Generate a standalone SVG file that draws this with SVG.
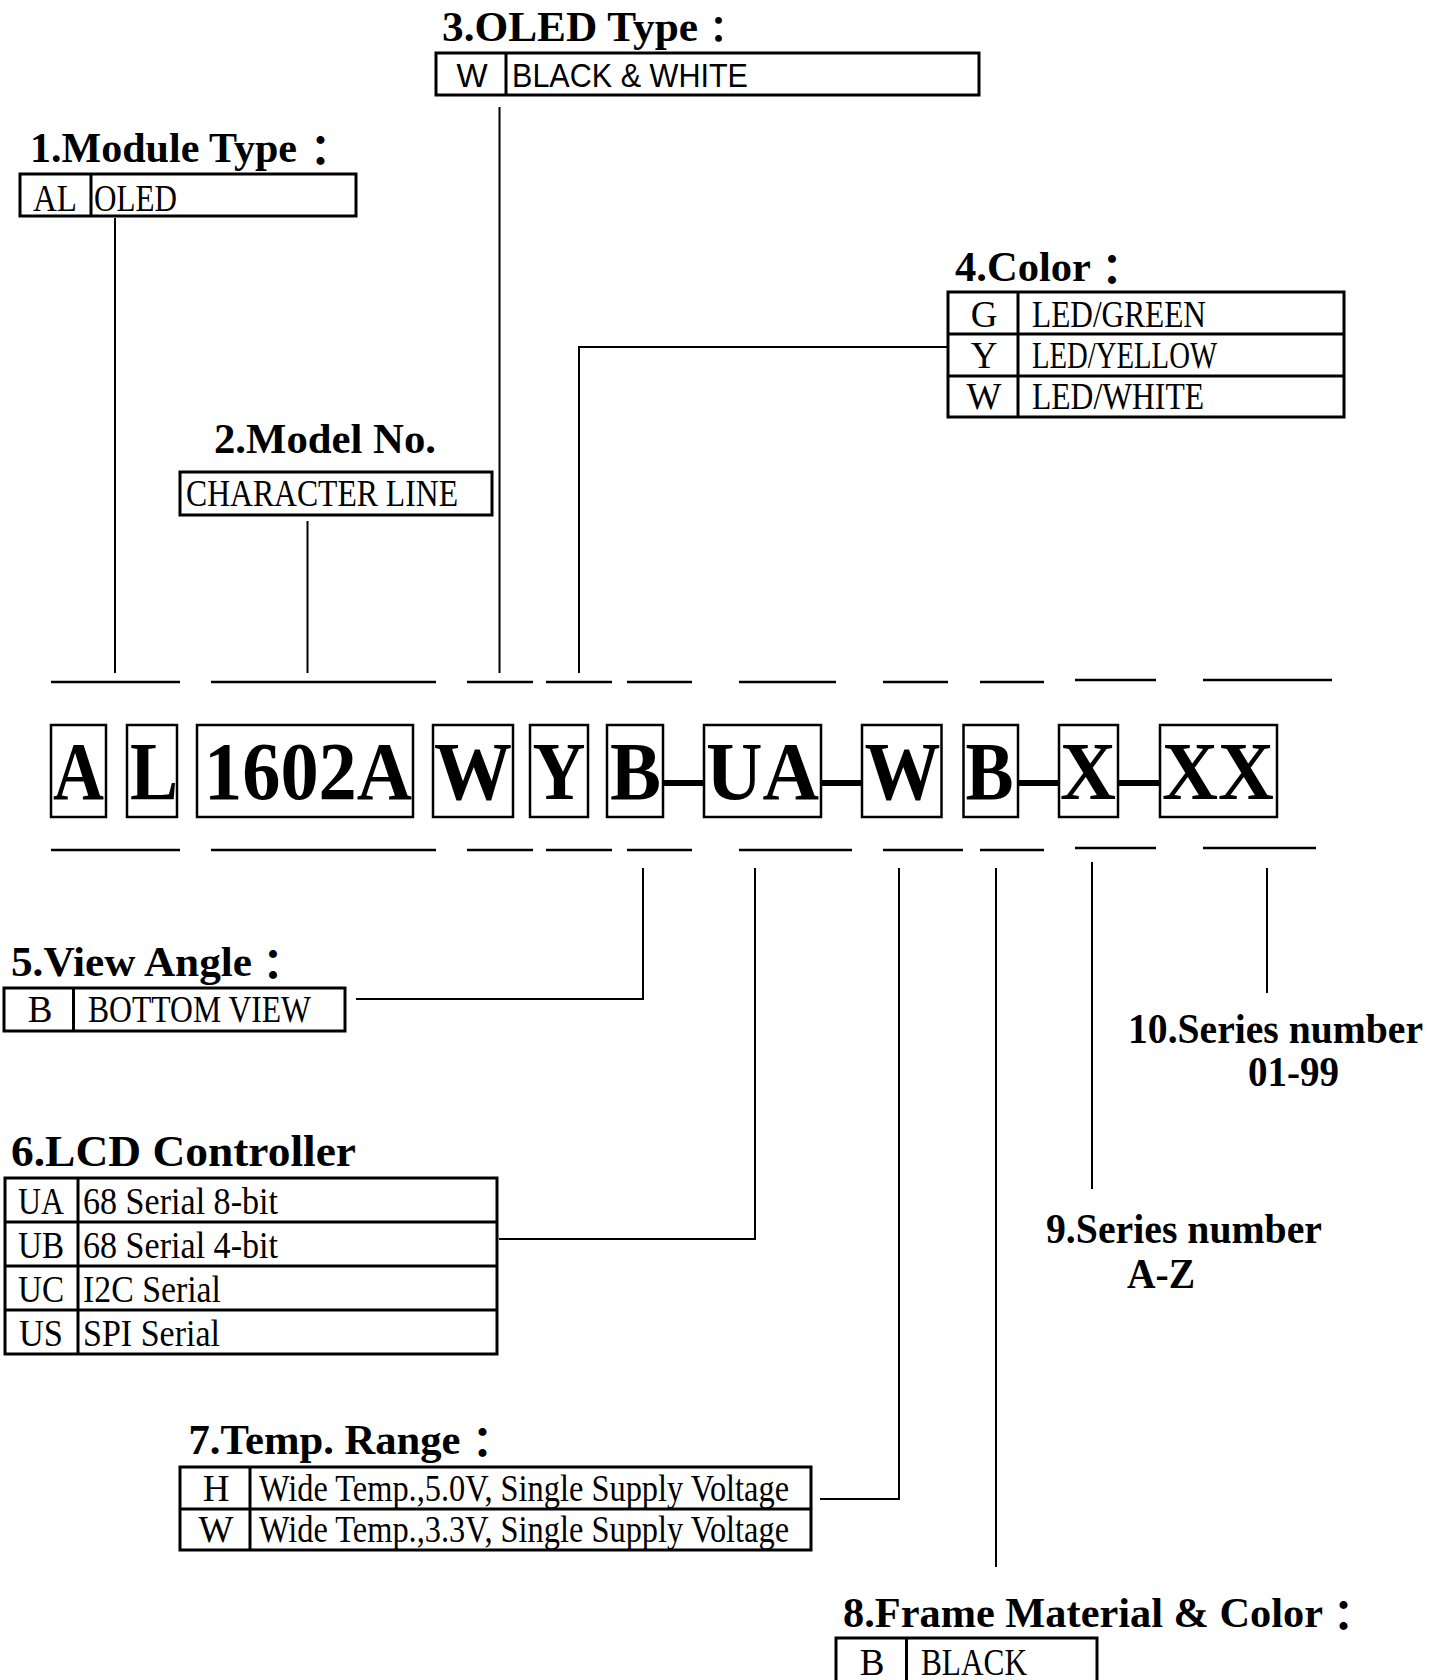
<svg xmlns="http://www.w3.org/2000/svg" width="1441" height="1680" viewBox="0 0 1441 1680">
<style>
.title{font-family:"Liberation Serif","Noto Sans CJK TC",serif;font-weight:bold;font-size:42px;fill:#000}
.colon{font-family:"Noto Sans CJK TC","Liberation Serif",sans-serif;font-weight:bold}
.cell{font-family:"Liberation Serif",serif;font-size:37px;fill:#000}
.sans{font-family:"Liberation Sans",sans-serif;font-size:33px;fill:#000}
.big{font-family:"Liberation Serif",serif;font-weight:bold;font-size:82px;fill:#000}
.tbl{fill:none;stroke:#000;stroke-width:3}
.lbox{fill:none;stroke:#000;stroke-width:2.5}
.conn{fill:none;stroke:#000;stroke-width:2}
.dash{fill:none;stroke:#000;stroke-width:2.5}
.hy{fill:none;stroke:#000;stroke-width:6}
</style>
<rect width="1441" height="1680" fill="#fff"/>

<g id="connectors">
  <line class="conn" x1="115" y1="218" x2="115" y2="673"/>
  <line class="conn" x1="307.5" y1="521" x2="307.5" y2="673"/>
  <line class="conn" x1="499.5" y1="107" x2="499.5" y2="673"/>
  <polyline class="conn" points="579,673 579,347 948,347"/>
  <polyline class="conn" points="643,868 643,999 356,999"/>
  <polyline class="conn" points="755,868 755,1239 499,1239"/>
  <polyline class="conn" points="899,868 899,1499 820,1499"/>
  <line class="conn" x1="996" y1="868" x2="996" y2="1567"/>
  <line class="conn" x1="1092" y1="862" x2="1092" y2="1189"/>
  <line class="conn" x1="1267" y1="868" x2="1267" y2="993"/>
</g>

<g id="code-row">
  <g id="dashes-top">
    <line class="dash" x1="51" y1="682" x2="180" y2="682"/>
    <line class="dash" x1="211" y1="682" x2="436" y2="682"/>
    <line class="dash" x1="467" y1="682" x2="533" y2="682"/>
    <line class="dash" x1="546" y1="682" x2="612" y2="682"/>
    <line class="dash" x1="627" y1="682" x2="692" y2="682"/>
    <line class="dash" x1="739" y1="682" x2="836" y2="682"/>
    <line class="dash" x1="883" y1="682" x2="948" y2="682"/>
    <line class="dash" x1="980" y1="682" x2="1044" y2="682"/>
    <line class="dash" x1="1075" y1="680" x2="1156" y2="680"/>
    <line class="dash" x1="1203" y1="680" x2="1332" y2="680"/>
  </g>
  <g id="dashes-bottom">
    <line class="dash" x1="51" y1="850" x2="180" y2="850"/>
    <line class="dash" x1="211" y1="850" x2="436" y2="850"/>
    <line class="dash" x1="467" y1="850" x2="533" y2="850"/>
    <line class="dash" x1="546" y1="850" x2="612" y2="850"/>
    <line class="dash" x1="627" y1="850" x2="692" y2="850"/>
    <line class="dash" x1="739" y1="850" x2="852" y2="850"/>
    <line class="dash" x1="883" y1="850" x2="963" y2="850"/>
    <line class="dash" x1="980" y1="850" x2="1044" y2="850"/>
    <line class="dash" x1="1075" y1="848" x2="1156" y2="848"/>
    <line class="dash" x1="1203" y1="848" x2="1316" y2="848"/>
  </g>
  <g id="hyphens">
    <line class="hy" x1="663" y1="783" x2="704" y2="783"/>
    <line class="hy" x1="821" y1="783" x2="862" y2="783"/>
    <line class="hy" x1="1018" y1="783" x2="1059" y2="783"/>
    <line class="hy" x1="1118" y1="783" x2="1160" y2="783"/>
  </g>
  <g id="seg-A"><rect class="lbox" x="51" y="725" width="55" height="92"/><text class="big" x="78.5" y="799" text-anchor="middle" textLength="51" lengthAdjust="spacingAndGlyphs">A</text></g>
  <g id="seg-L"><rect class="lbox" x="127" y="725" width="50" height="92"/><text class="big" x="154" y="799" text-anchor="middle" textLength="48" lengthAdjust="spacingAndGlyphs">L</text></g>
  <g id="seg-1602A"><rect class="lbox" x="197" y="725" width="216" height="92"/><text class="big" x="308" y="799" text-anchor="middle" textLength="208" lengthAdjust="spacingAndGlyphs">1602A</text></g>
  <g id="seg-W"><rect class="lbox" x="433" y="725" width="80" height="92"/><text class="big" x="473" y="799" text-anchor="middle" textLength="78" lengthAdjust="spacingAndGlyphs">W</text></g>
  <g id="seg-Y"><rect class="lbox" x="530" y="725" width="58" height="92"/><text class="big" x="559" y="799" text-anchor="middle" textLength="53" lengthAdjust="spacingAndGlyphs">Y</text></g>
  <g id="seg-B"><rect class="lbox" x="607" y="725" width="56" height="92"/><text class="big" x="635.5" y="799" text-anchor="middle" textLength="51" lengthAdjust="spacingAndGlyphs">B</text></g>
  <g id="seg-UA"><rect class="lbox" x="704" y="725" width="117" height="92"/><text class="big" x="762.5" y="799" text-anchor="middle" textLength="113" lengthAdjust="spacingAndGlyphs">UA</text></g>
  <g id="seg-W2"><rect class="lbox" x="862" y="725" width="79.5" height="92"/><text class="big" x="902.5" y="799" text-anchor="middle" textLength="76" lengthAdjust="spacingAndGlyphs">W</text></g>
  <g id="seg-B2"><rect class="lbox" x="963.5" y="725" width="54.5" height="92"/><text class="big" x="989.5" y="799" text-anchor="middle" textLength="48" lengthAdjust="spacingAndGlyphs">B</text></g>
  <g id="seg-X"><rect class="lbox" x="1059" y="725" width="59" height="92"/><text class="big" x="1088" y="799" text-anchor="middle" textLength="56" lengthAdjust="spacingAndGlyphs">X</text></g>
  <g id="seg-XX"><rect class="lbox" x="1160" y="725" width="117" height="92"/><text class="big" x="1218" y="799" text-anchor="middle" textLength="112" lengthAdjust="spacingAndGlyphs">XX</text></g>
</g>

<g id="module-type">
  <text class="title" x="30" y="162"><tspan textLength="267" lengthAdjust="spacingAndGlyphs">1.Module Type</tspan><tspan class="colon" x="299.5" dy="4">：</tspan></text>
  <rect class="tbl" x="20" y="174" width="336" height="42"/>
  <line class="tbl" x1="91" y1="174" x2="91" y2="216"/>
  <text class="cell" x="55" y="211" text-anchor="middle" textLength="44" lengthAdjust="spacingAndGlyphs">AL</text>
  <text class="cell" x="94" y="211" textLength="83" lengthAdjust="spacingAndGlyphs">OLED</text>
</g>

<g id="model-no">
  <text class="title" x="214" y="453" textLength="222" lengthAdjust="spacingAndGlyphs">2.Model No.</text>
  <rect class="tbl" x="180" y="472" width="312" height="43"/>
  <text class="cell" x="186" y="506" textLength="272" lengthAdjust="spacingAndGlyphs">CHARACTER LINE</text>
</g>

<g id="oled-type">
  <text class="title" x="442" y="41"><tspan textLength="256" lengthAdjust="spacingAndGlyphs">3.OLED Type</tspan><tspan class="colon" x="700.5" dy="2" style="font-size:36px">：</tspan></text>
  <rect class="tbl" x="436" y="53" width="543" height="42"/>
  <line class="tbl" x1="506" y1="53" x2="506" y2="95"/>
  <text class="sans" x="472" y="87" text-anchor="middle">W</text>
  <text class="sans" x="512" y="87" textLength="236" lengthAdjust="spacingAndGlyphs">BLACK &amp; WHITE</text>
</g>

<g id="color">
  <text class="title" x="955" y="281"><tspan textLength="136" lengthAdjust="spacingAndGlyphs">4.Color</tspan><tspan class="colon" x="1091" dy="4">：</tspan></text>
  <rect class="tbl" x="948" y="292" width="396" height="125"/>
  <line class="tbl" x1="948" y1="334" x2="1344" y2="334"/>
  <line class="tbl" x1="948" y1="376" x2="1344" y2="376"/>
  <line class="tbl" x1="1018" y1="292" x2="1018" y2="417"/>
  <text class="cell" x="984" y="327" text-anchor="middle">G</text>
  <text class="cell" x="1032" y="327" textLength="174" lengthAdjust="spacingAndGlyphs">LED/GREEN</text>
  <text class="cell" x="984" y="368" text-anchor="middle">Y</text>
  <text class="cell" x="1032" y="368" textLength="185" lengthAdjust="spacingAndGlyphs">LED/YELLOW</text>
  <text class="cell" x="984" y="409" text-anchor="middle">W</text>
  <text class="cell" x="1032" y="409" textLength="172" lengthAdjust="spacingAndGlyphs">LED/WHITE</text>
</g>

<g id="view-angle">
  <text class="title" x="11" y="976"><tspan textLength="241" lengthAdjust="spacingAndGlyphs">5.View Angle</tspan><tspan class="colon" x="252" dy="4">：</tspan></text>
  <rect class="tbl" x="4" y="988" width="341" height="43"/>
  <line class="tbl" x1="73.5" y1="988" x2="73.5" y2="1031"/>
  <text class="cell" x="40" y="1022" text-anchor="middle">B</text>
  <text class="cell" x="88" y="1022" textLength="223" lengthAdjust="spacingAndGlyphs">BOTTOM VIEW</text>
</g>

<g id="lcd-controller">
  <text class="title" x="11" y="1166" style="font-size:45px" textLength="345" lengthAdjust="spacingAndGlyphs">6.LCD Controller</text>
  <rect class="tbl" x="5" y="1178" width="492" height="176"/>
  <line class="tbl" x1="5" y1="1222" x2="497" y2="1222"/>
  <line class="tbl" x1="5" y1="1266" x2="497" y2="1266"/>
  <line class="tbl" x1="5" y1="1310" x2="497" y2="1310"/>
  <line class="tbl" x1="78" y1="1178" x2="78" y2="1354"/>
  <text class="cell" x="41" y="1214" text-anchor="middle" textLength="46" lengthAdjust="spacingAndGlyphs">UA</text>
  <text class="cell" x="83" y="1214" textLength="195" lengthAdjust="spacingAndGlyphs">68 Serial 8-bit</text>
  <text class="cell" x="41" y="1258" text-anchor="middle" textLength="46" lengthAdjust="spacingAndGlyphs">UB</text>
  <text class="cell" x="83" y="1258" textLength="195" lengthAdjust="spacingAndGlyphs">68 Serial 4-bit</text>
  <text class="cell" x="41" y="1302" text-anchor="middle" textLength="46" lengthAdjust="spacingAndGlyphs">UC</text>
  <text class="cell" x="83" y="1302" textLength="138" lengthAdjust="spacingAndGlyphs">I2C Serial</text>
  <text class="cell" x="41" y="1346" text-anchor="middle" textLength="44" lengthAdjust="spacingAndGlyphs">US</text>
  <text class="cell" x="83" y="1346" textLength="137" lengthAdjust="spacingAndGlyphs">SPI Serial</text>
</g>

<g id="temp-range">
  <text class="title" x="188.5" y="1454"><tspan textLength="272" lengthAdjust="spacingAndGlyphs">7.Temp. Range</tspan><tspan class="colon" x="461.5" dy="4">：</tspan></text>
  <rect class="tbl" x="180" y="1467" width="631" height="83"/>
  <line class="tbl" x1="180" y1="1509" x2="811" y2="1509"/>
  <line class="tbl" x1="250" y1="1467" x2="250" y2="1550"/>
  <text class="cell" x="216" y="1501" text-anchor="middle">H</text>
  <text class="cell" x="259" y="1501" textLength="530" lengthAdjust="spacingAndGlyphs">Wide Temp.,5.0V, Single Supply Voltage</text>
  <text class="cell" x="216" y="1542" text-anchor="middle">W</text>
  <text class="cell" x="259" y="1542" textLength="530" lengthAdjust="spacingAndGlyphs">Wide Temp.,3.3V, Single Supply Voltage</text>
</g>

<g id="frame-material">
  <text class="title" x="843" y="1627"><tspan textLength="480" lengthAdjust="spacingAndGlyphs">8.Frame Material &amp; Color</tspan><tspan class="colon" x="1322.5" dy="4">：</tspan></text>
  <path class="tbl" d="M836,1700 V1638 H1097 V1700"/>
  <line class="tbl" x1="906.5" y1="1638" x2="906.5" y2="1700"/>
  <text class="cell" x="872" y="1675" text-anchor="middle">B</text>
  <text class="cell" x="921" y="1675" textLength="106" lengthAdjust="spacingAndGlyphs">BLACK</text>
</g>

<g id="series-9">
  <text class="title" x="1046" y="1243" textLength="276" lengthAdjust="spacingAndGlyphs">9.Series number</text>
  <text class="title" x="1127" y="1288" textLength="68" lengthAdjust="spacingAndGlyphs">A-Z</text>
</g>

<g id="series-10">
  <text class="title" x="1128" y="1043" textLength="295" lengthAdjust="spacingAndGlyphs">10.Series number</text>
  <text class="title" x="1248" y="1086" textLength="91" lengthAdjust="spacingAndGlyphs">01-99</text>
</g>
</svg>
